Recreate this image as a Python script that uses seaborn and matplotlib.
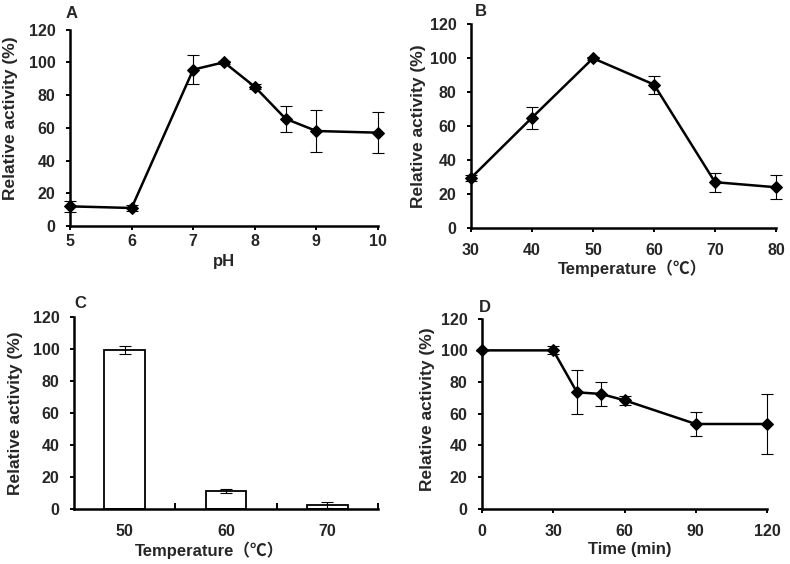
import numpy as np
import pandas as pd
import matplotlib
matplotlib.use("Agg")
import matplotlib.pyplot as plt
import seaborn as sns

# Panel A: pH
ph = [5, 6, 7, 7.5, 8, 8.5, 9, 10]
ph_act = [12, 11, 95.5, 100, 85, 65.5, 58, 57]
ph_err = [3.5, 2, 9, 1, 1.5, 8, 13, 12.5]

# Panel B: temperature
temp = [30, 40, 50, 60, 70, 80]
temp_act = [29.5, 65, 100, 84.5, 27, 24]
temp_err = [2, 6.5, 1, 5.3, 5.5, 7]

# Panel C: thermostability bars
stab_temp = ["50", "60", "70"]
stab_act = [99.5, 11.3, 2.3]
stab_err = [2.5, 1.2, 1.8]

# Panel D: time
time_min = [0, 30, 40, 50, 60, 90, 120]
time_act = [100, 100, 73.5, 72.5, 68.5, 53.5, 53.5]
time_err = [0.5, 2.5, 14, 7.5, 2.7, 7.5, 18.7]

sns.set_style("ticks")
plt.rcParams["font.family"] = ["Liberation Sans", "Noto Sans CJK SC", "DejaVu Sans"]
plt.rcParams["font.weight"] = "bold"
plt.rcParams["axes.labelweight"] = "bold"

fig = plt.figure(figsize=(7.9, 5.64), dpi=100)
W, H = 790, 564

def add_ax(l, r, t, b):
    return fig.add_axes([l / W, 1 - b / H, (r - l) / W, (b - t) / H])

axA = add_ax(70, 378, 29.5, 226)
axB = add_ax(471, 776, 24.3, 228)
axC = add_ax(74, 378, 317, 509)
axD = add_ax(482, 767, 318.7, 508.7)

FS = 11.5
XFS = 12
YFS = 12.5
CJK = ["Liberation Sans", "Noto Sans CJK SC", "DejaVu Sans"]

def style(ax, xpad, ylab_x, ylab_y):
    sns.despine(ax=ax)
    for s in ["left", "bottom"]:
        ax.spines[s].set_linewidth(1.8)
        ax.spines[s].set_color("black")
    ax.set_ylim(0, 120)
    ax.set_yticks(range(0, 121, 20))
    ax.tick_params(axis="both", direction="out", length=3, width=1.4,
                   labelsize=FS, color="black")
    ax.tick_params(axis="y", pad=7.5)
    ax.tick_params(axis="x", pad=xpad)
    for lab in ax.get_xticklabels() + ax.get_yticklabels():
        lab.set_fontweight("bold")
    ax.set_ylabel("Relative activity (%)", fontsize=YFS, fontweight="bold")
    ax.yaxis.set_label_coords(ylab_x, ylab_y)
    ax.set_facecolor("white")

def line_panel(ax, x, y, e):
    df = pd.DataFrame({"x": x, "y": y})
    sns.lineplot(data=df, x="x", y="y", ax=ax, color="black", linewidth=1.8,
                 marker="D", markersize=6.5, markeredgecolor="black", zorder=3,
                 clip_on=False)
    ax.errorbar(x, y, yerr=e, fmt="none", ecolor="black", elinewidth=0.8,
                capsize=4, capthick=0.8, zorder=2, clip_on=False)

# A
line_panel(axA, ph, ph_act, ph_err)
style(axA, 3, -0.169, 0.547)
axA.set_xlim(5, 10)
axA.set_xticks(range(5, 11))
axA.set_xlabel("pH", fontsize=XFS, fontweight="bold", labelpad=3.5)

# B
line_panel(axB, temp, temp_act, temp_err)
style(axB, 7.8, -0.147, 0.5)
axB.set_xlim(30, 80)
axB.set_xticks(temp)
axB.set_xlabel("Temperature（℃）", fontsize=XFS, fontweight="bold", labelpad=1, family=CJK)

# C
dfc = pd.DataFrame({"t": stab_temp, "a": stab_act})
sns.barplot(data=dfc, x="t", y="a", ax=axC, color="white", edgecolor="black",
            linewidth=1.3, width=0.4, errorbar=None)
axC.errorbar(range(len(stab_act)), stab_act, yerr=stab_err, fmt="none",
             ecolor="black", elinewidth=0.8, capsize=4, capthick=0.8)
style(axC, 10.8, -0.168, 0.5)
axC.set_xlim(-0.5, 2.5)
axC.set_xticks([0, 1, 2])
axC.set_xticklabels(stab_temp)
axC.tick_params(axis="x", length=0, pad=11)
axC.set_xticks([0.5, 1.5, 2.5], minor=True)
axC.tick_params(axis="x", which="minor", direction="in", length=4, width=1.4, color="black")
axC.set_xlabel("Temperature（℃）", fontsize=XFS, fontweight="bold", labelpad=1.5, family=CJK)

# D
line_panel(axD, time_min, time_act, time_err)
style(axD, 8, -0.165, 0.526)
axD.set_xlim(0, 120)
axD.set_xticks([0, 30, 60, 90, 120])
axD.set_xlabel("Time (min)", fontsize=XFS, fontweight="bold", labelpad=2.5)

# horizontal placement of x labels as in the reference
for ax, fx in [(axB, 0.53), (axC, 0.445), (axD, 0.517)]:
    ax.xaxis.label.set_x(fx)

for lab, (x, y) in zip("ABCD", [(66, 14), (475, 12), (74, 304), (479, 307)]):
    fig.text(x / W, 1 - y / H, lab, fontsize=12, fontweight="bold",
             ha="left", va="center")

fig.savefig("out.png", dpi=100, facecolor="white")
